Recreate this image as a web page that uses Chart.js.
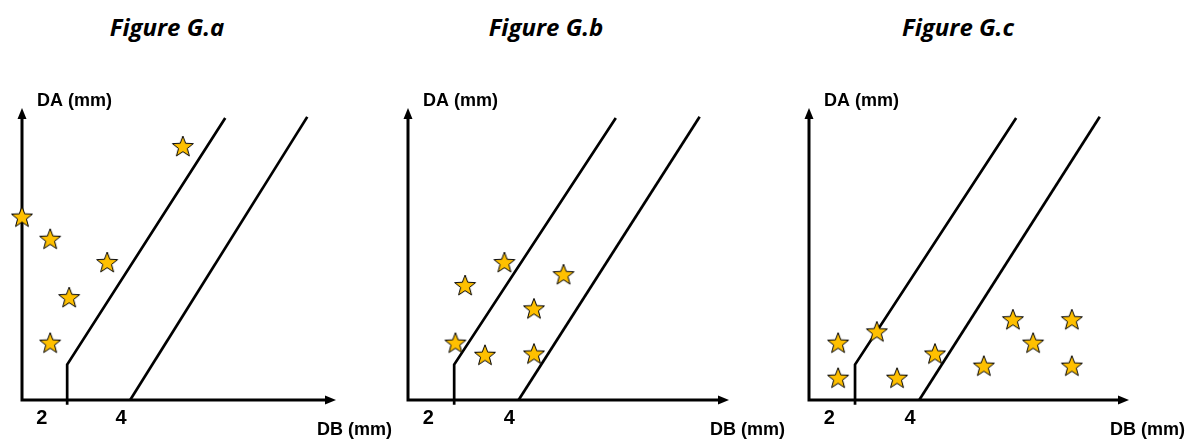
<!DOCTYPE html>
<html>
<head>
<meta charset="utf-8">
<script src="https://cdn.jsdelivr.net/npm/chart.js@4"></script>
<style>
  body { margin: 0; background: #fff; width: 1190px; height: 439px; position: relative; overflow: hidden; }
  canvas { position: absolute; top: 0; }
  .title { position: absolute; top: 10px; width: 200px; text-align: center;
           font: italic bold 24px "Open Sans", Lato, sans-serif; color: #000; }
</style>
</head>
<body>
<div class="title" style="left:67px">Figure G.a</div>
<div class="title" style="left:446px">Figure G.b</div>
<div class="title" style="left:858px">Figure G.c</div>
<canvas id="chartA" width="396" height="439" style="left:0px"></canvas>
<canvas id="chartB" width="396" height="439" style="left:396px"></canvas>
<canvas id="chartC" width="398" height="439" style="left:792px"></canvas>
<script>
// tick labels on the DB axis
const xTicks = [2, 4];

// the two boundary lines (same in every panel)
const innerLineX = [2.64, 2.64, 6.63];
const innerLineY = [-0.12, 0.88, 7.0];
const outerLineX = [4.23, 8.7];
const outerLineY = [0, 7.03];

// stars, panel a
const starsAx = [5.56, 1.5, 2.21, 3.65, 2.69, 2.21];
const starsAy = [6.28, 4.53, 3.98, 3.4, 2.53, 1.4];
// panel b
const starsBx = [3.88, 2.91, 5.34, 4.61, 2.67, 3.4, 4.61];
const starsBy = [3.4, 2.83, 3.1, 2.25, 1.4, 1.1, 1.13];
// panel c
const starsCx = [2.22, 2.22, 3.18, 3.68, 4.62, 5.83, 6.55, 7.05, 8.01, 8.01];
const starsCy = [1.4, 0.53, 1.68, 0.53, 1.13, 0.83, 1.98, 1.4, 1.98, 0.83];

const zip = (xs, ys) => xs.map((x, i) => ({ x, y: ys[i] }));

function makeStar(outer) {
  const inner = outer * 0.42;
  const size = outer * 2 + 4;
  const c = document.createElement('canvas');
  c.width = size;
  c.height = size;
  const ctx = c.getContext('2d');
  ctx.translate(size / 2, size / 2);
  ctx.beginPath();
  for (let i = 0; i < 10; i++) {
    const r = i % 2 === 0 ? outer : inner;
    const a = -Math.PI / 2 + i * Math.PI / 5;
    const px = r * Math.cos(a), py = r * Math.sin(a);
    if (i === 0) ctx.moveTo(px, py); else ctx.lineTo(px, py);
  }
  ctx.closePath();
  ctx.fillStyle = '#FFC000';
  ctx.fill();
  ctx.lineWidth = 1;
  ctx.strokeStyle = '#000';
  ctx.stroke();
  return c;
}

const starImg = makeStar(11);

// axes with arrowheads and the axis names
const axesPlugin = {
  id: 'axesPlugin',
  beforeDatasetsDraw(chart) {
    const { ctx, chartArea: { left, right, top, bottom } } = chart;
    ctx.save();
    ctx.strokeStyle = '#000';
    ctx.fillStyle = '#000';
    ctx.lineWidth = 3;
    ctx.beginPath();
    ctx.moveTo(left, bottom + 1.5);
    ctx.lineTo(left, top + 8);
    ctx.moveTo(left - 1.5, bottom);
    ctx.lineTo(right - 8, bottom);
    ctx.stroke();

    ctx.beginPath();
    ctx.moveTo(left, top - 2);
    ctx.lineTo(left - 4.5, top + 9);
    ctx.lineTo(left + 4.5, top + 9);
    ctx.closePath();
    ctx.fill();

    ctx.beginPath();
    ctx.moveTo(right + 1, bottom);
    ctx.lineTo(right - 10, bottom - 4.5);
    ctx.lineTo(right - 10, bottom + 4.5);
    ctx.closePath();
    ctx.fill();

    ctx.font = 'bold 18px "Liberation Sans", Arial, sans-serif';
    ctx.textBaseline = 'middle';
    ctx.textAlign = 'left';
    ctx.fillText('DA (mm)', left + 15, top - 9);
    ctx.fillText('DB (mm)', right - 18, bottom + 30);
    ctx.restore();
  }
};

function buildChart(id, starsX, starsY, padLeft, padRight) {
  return new Chart(document.getElementById(id), {
    type: 'scatter',
    data: {
      datasets: [
        {
          data: zip(starsX, starsY),
          pointStyle: starImg,
          pointRadius: 11,
          clip: false
        },
        {
          data: zip(innerLineX, innerLineY),
          showLine: true,
          borderColor: '#000',
          borderWidth: 2.7,
          pointRadius: 0,
          clip: false
        },
        {
          data: zip(outerLineX, outerLineY),
          showLine: true,
          borderColor: '#000',
          borderWidth: 2.7,
          pointRadius: 0,
          clip: false
        }
      ]
    },
    options: {
      responsive: false,
      animation: false,
      events: [],
      layout: { padding: { left: padLeft, right: padRight, top: 110, bottom: 3 } },
      plugins: { legend: { display: false }, tooltip: { enabled: false } },
      scales: {
        x: {
          type: 'linear',
          min: 1.5,
          max: 9.4,
          grid: { display: false, drawTicks: false },
          border: { display: false },
          afterBuildTicks: scale => { scale.ticks = xTicks.map(v => ({ value: v })); },
          ticks: {
            color: '#000',
            padding: 6,
            autoSkip: false,
            maxRotation: 0,
            font: { family: '"Liberation Sans", Arial, sans-serif', size: 20, weight: 'bold' }
          }
        },
        y: { type: 'linear', min: 0, max: 7.2, display: false }
      }
    },
    plugins: [axesPlugin]
  });
}

buildChart('chartA', starsAx, starsAy, 22, 61);
buildChart('chartB', starsBx, starsBy, 7, 64);
buildChart('chartC', starsCx, starsCy, 17, 62);
</script>
</body>
</html>
